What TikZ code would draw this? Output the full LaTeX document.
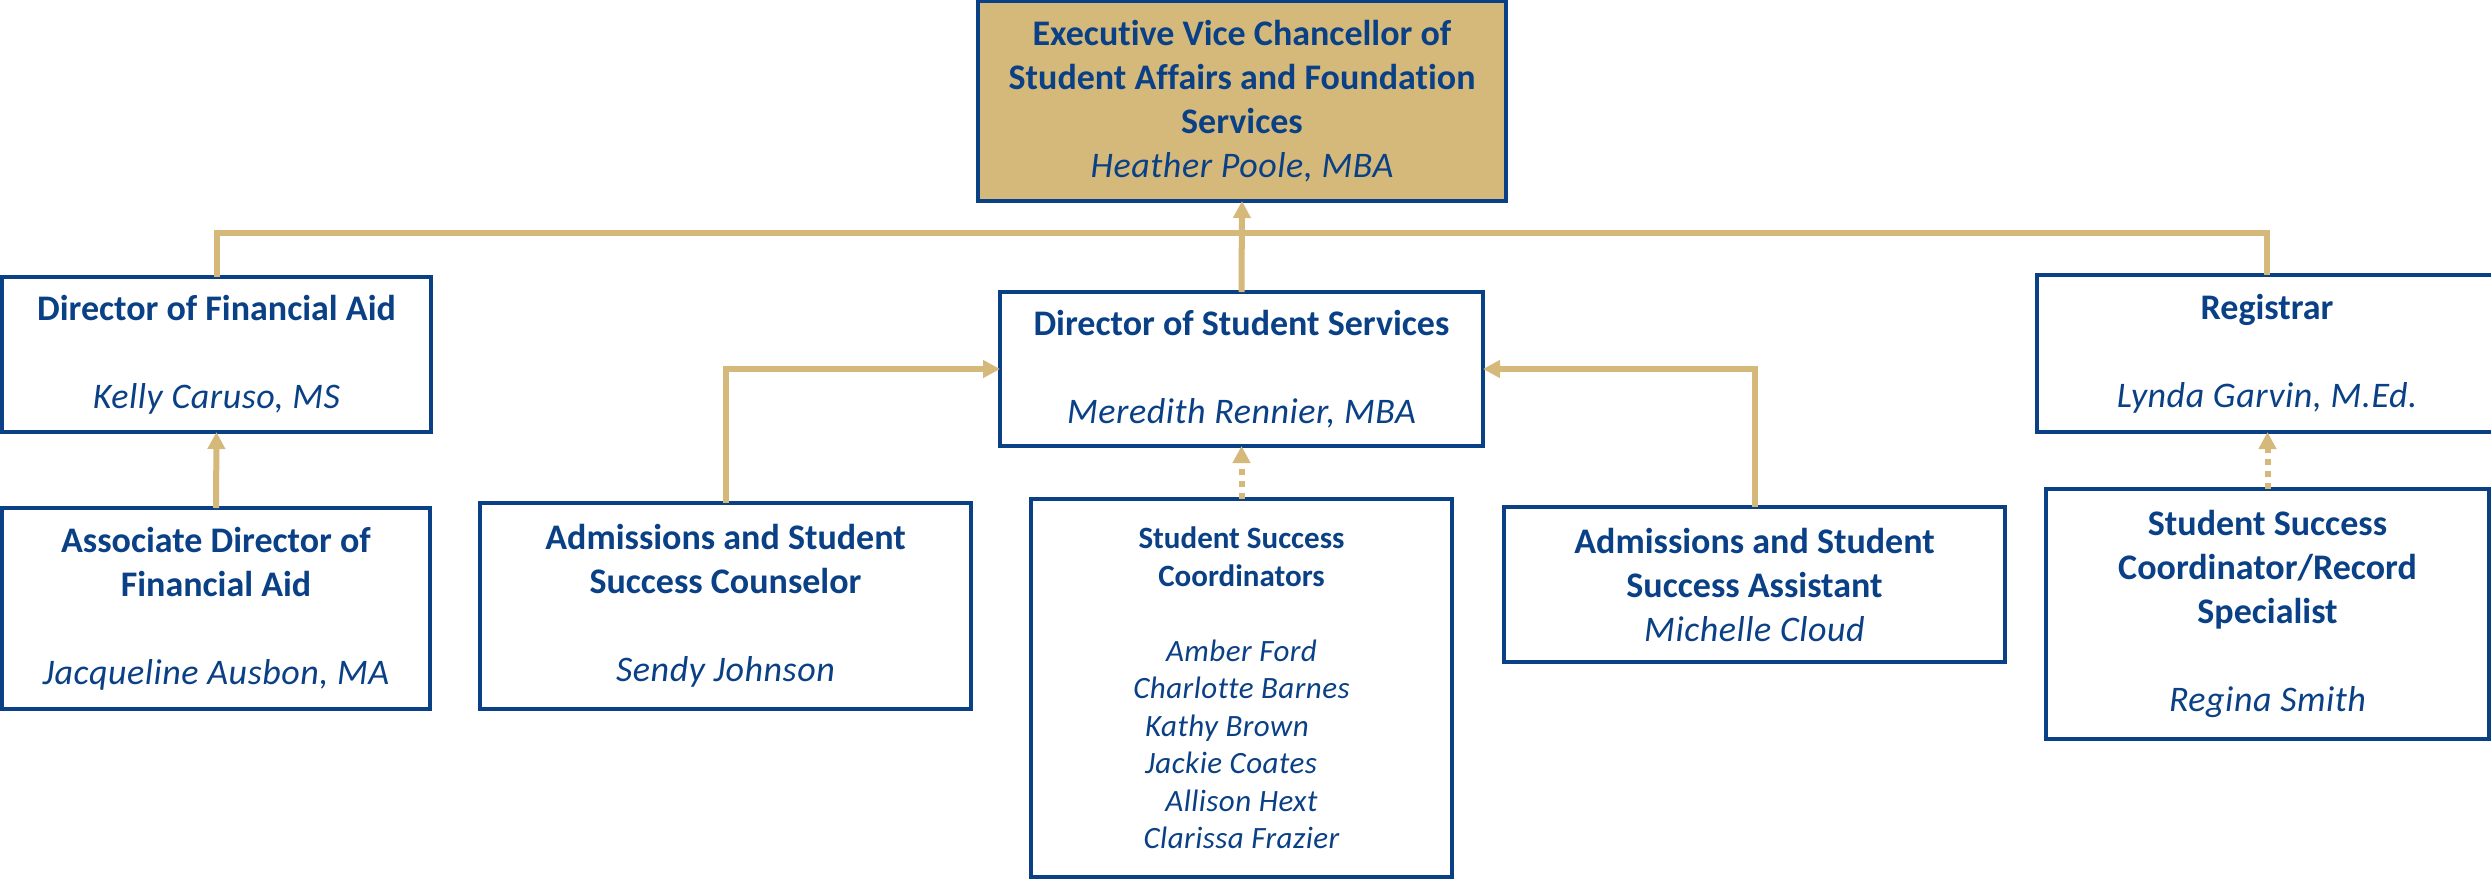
\documentclass[tikz,border=0pt]{standalone}
\usepackage{fontspec}
\setmainfont{Carlito}[Ligatures=NoCommon,ItalicFeatures={LetterSpace=1.5},BoldItalicFeatures={LetterSpace=1.5}]
\usetikzlibrary{arrows.meta}
\definecolor{navy}{RGB}{10,64,133}
\definecolor{gold}{RGB}{213,185,122}
\newcommand\pname[1]{{\mdseries\itshape #1}}
\begin{document}
\begin{tikzpicture}[x=0.5pt,y=-0.5pt,
  box/.style={draw=navy,line width=2pt,fill=white,text=navy,align=center,
    inner sep=0pt,outer sep=0pt,font=\fontsize{18pt}{22pt}\selectfont\bfseries},
  smalltext/.style={font=\fontsize{15.5pt}{18.75pt}\selectfont\bfseries},
  wh/.style 2 args={minimum width=#1*0.5pt,minimum height=#2*0.5pt},
  conn/.style={draw=gold,line width=3pt},
  tip/.style={-{Triangle[length=8.5pt,width=8.5pt]}},
  dotconn/.style={conn,dash pattern=on 3pt off 3pt}
]
\clip (0,0) rectangle (2491,879);
\fill[white] (0,0) rectangle (2491,879);

\node[box,fill=gold,wh={528}{200}] (top) at (1242,101)
  {Executive Vice Chancellor of\\Student Affairs and Foundation\\Services\\\pname{Heather Poole, MBA}};
\node[box,wh={429}{155}] (dfa) at (216.5,354.5)
  {Director of Financial Aid\\[22pt]\pname{Kelly Caruso, MS}};
\node[box,wh={428}{201}] (assoc) at (216,608.5)
  {Associate Director of\\Financial Aid\\[22pt]\pname{Jacqueline Ausbon, MA}};
\node[box,wh={491}{206}] (couns) at (725.5,606)
  {Admissions and Student\\Success Counselor\\[22pt]\pname{Sendy Johnson}};
\node[box,wh={483}{154}] (dss) at (1241.5,369)
  {Director of Student Services\\[22pt]\pname{Meredith Rennier, MBA}};
\node[box,smalltext,wh={421}{378}] (ssc) at (1241.5,688)
  {Student Success\\Coordinators\\[18.75pt]\pname{Amber Ford}\\\pname{Charlotte Barnes}\\\hbox{\pname{Kathy Brown}\kern14.5pt}\\\hbox{\pname{Jackie Coates}\kern10.5pt}\\\pname{Allison Hext}\\\pname{Clarissa Frazier}};
\node[box,wh={501}{155}] (assist) at (1754.5,584.5)
  {Admissions and Student\\Success Assistant\\\pname{Michelle Cloud}};
\node[box,wh={460}{157}] (reg) at (2267,353.5)
  {Registrar\\[22pt]\pname{Lynda Garvin, M.Ed.}};
\node[box,wh={443}{250}] (spec) at (2267.5,614)
  {Student Success\\Coordinator/Record\\Specialist\\[22pt]\pname{Regina Smith}};

\coordinate (bus) at (1242,233);
\draw[conn] (dfa.north) -- (dfa.north |- bus) -- (reg.north |- bus) -- (reg.north);
\draw[conn,tip] (dss.north) -- (top.south);
\draw[conn,tip] (assoc.north) -- (dfa.south);
\draw[conn,tip] (couns.north) |- (dss.west);
\draw[conn,tip] (assist.north) |- (dss.east);
\draw[dotconn,tip] (ssc.north) -- (dss.south);
\draw[dotconn,tip] (spec.north) -- (spec.north |- reg.south);
\end{tikzpicture}
\end{document}
